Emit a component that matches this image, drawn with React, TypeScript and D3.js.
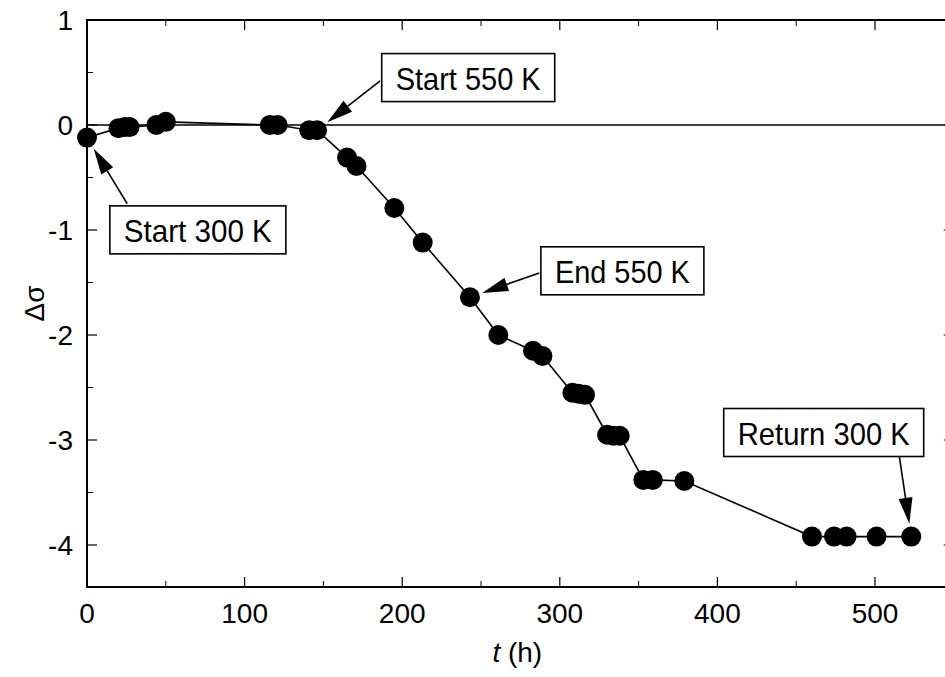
import React from 'react';
import * as d3 from 'd3';

// time (h) and change of conductivity
const hours = [0, 20, 24, 27, 44, 50, 116, 121, 141, 146, 165, 171, 195, 213, 243, 261, 283, 289, 308, 312, 316, 330, 334, 338, 353, 359, 379, 460, 474, 482, 501, 523];
const deltaSigma = [-0.12, -0.03, -0.02, -0.02, 0.0, 0.03, 0.0, 0.0, -0.05, -0.05, -0.31, -0.39, -0.79, -1.12, -1.64, -2.0, -2.15, -2.2, -2.55, -2.56, -2.57, -2.95, -2.96, -2.96, -3.38, -3.38, -3.39, -3.92, -3.92, -3.92, -3.92, -3.92];

const xTicks = [0, 100, 200, 300, 400, 500];
const yTicks = [1, 0, -1, -2, -3, -4];

// annotations: label, point index the arrow points to, box anchor (data units), arrow tail (data units)
const notes = [
  { label: 'Start 300 K', target: 0, box: [14.5, -0.77], tail: [25.5, -0.75] },
  { label: 'Start 550 K', target: 9, box: [187, 0.68], tail: [186, 0.42] },
  { label: 'End 550 K', target: 14, box: [288, -1.16], tail: [287, -1.41] },
  { label: 'Return 300 K', target: 31, box: [404, -2.7], tail: [515, -3.11] },
];
const noteWidths = [176, 173, 163, 200];

const W = 945;
const H = 677;
const margin = { left: 87, top: 20, right: 87 + 550 * 1.576, bottom: 587 };

export default function App() {
  const x = d3.scaleLinear().domain([0, 550]).range([margin.left, margin.right]);
  const y = d3.scaleLinear().domain([-4.4, 1]).range([margin.bottom, margin.top]);

  const pts = hours.map((t, i) => [x(t), y(deltaSigma[i])] as [number, number]);
  const line = d3.line()(pts) || '';

  const xMinor = d3.range(50, 550, 100);
  const yMinor = d3.range(-3.5, 1, 1);

  const font = '"Liberation Sans", Arial, Helvetica, sans-serif';

  const arrow = (x1: number, y1: number, x2: number, y2: number, k: number) => {
    const ang = Math.atan2(y2 - y1, x2 - x1);
    const len = 26;
    const half = 7;
    const bx = x2 - len * Math.cos(ang);
    const by = y2 - len * Math.sin(ang);
    const px = -Math.sin(ang) * half;
    const py = Math.cos(ang) * half;
    return (
      <g key={'a' + k}>
        <line x1={x1} y1={y1} x2={bx} y2={by} stroke="#000" strokeWidth={1.6} />
        <polygon points={`${x2},${y2} ${bx + px},${by + py} ${bx - px},${by - py}`} fill="#000" />
      </g>
    );
  };

  return (
    <svg width={W} height={H} style={{ position: 'absolute', left: 0, top: 0, background: '#fff' }} fontFamily={font}>
      {/* zero line */}
      <line x1={x(0)} x2={x(550)} y1={y(0)} y2={y(0)} stroke="#000" strokeWidth={1.6} />

      {/* frame */}
      <rect x={margin.left} y={margin.top} width={margin.right - margin.left} height={margin.bottom - margin.top} fill="none" stroke="#000" strokeWidth={2} />

      {/* x ticks */}
      {xTicks.map(t => (
        <g key={'xt' + t}>
          <line x1={x(t)} x2={x(t)} y1={margin.bottom} y2={margin.bottom - 10} stroke="#000" strokeWidth={1.2} />
          <line x1={x(t)} x2={x(t)} y1={margin.top} y2={margin.top + 10} stroke="#000" strokeWidth={1.2} />
          <text x={x(t)} y={margin.bottom + 36} textAnchor="middle" fontSize={28}>{t}</text>
        </g>
      ))}
      {xMinor.map(t => (
        <g key={'xm' + t}>
          <line x1={x(t)} x2={x(t)} y1={margin.bottom} y2={margin.bottom - 6} stroke="#000" strokeWidth={1} />
          <line x1={x(t)} x2={x(t)} y1={margin.top} y2={margin.top + 6} stroke="#000" strokeWidth={1} />
        </g>
      ))}

      {/* y ticks */}
      {yTicks.map(v => (
        <g key={'yt' + v}>
          <line x1={margin.left} x2={margin.left + 10} y1={y(v)} y2={y(v)} stroke="#000" strokeWidth={1.2} />
          <line x1={margin.right} x2={margin.right - 10} y1={y(v)} y2={y(v)} stroke="#000" strokeWidth={1.2} />
          <text x={margin.left - 14} y={y(v)} dy="0.36em" textAnchor="end" fontSize={28}>{v}</text>
        </g>
      ))}
      {yMinor.map(v => (
        <g key={'ym' + v}>
          <line x1={margin.left} x2={margin.left + 6} y1={y(v)} y2={y(v)} stroke="#000" strokeWidth={1} />
          <line x1={margin.right} x2={margin.right - 6} y1={y(v)} y2={y(v)} stroke="#000" strokeWidth={1} />
        </g>
      ))}

      {/* axis titles */}
      <text x={x(275) - 28} y={662} fontSize={28}>
        <tspan fontStyle="italic">t</tspan> (h)
      </text>
      <text transform={`translate(44, ${y(-1.7)}) rotate(-90)`} textAnchor="middle" fontSize={28}>Δσ</text>

      {/* data */}
      <path d={line} fill="none" stroke="#000" strokeWidth={1.6} />
      {pts.map((p, i) => (
        <circle key={'p' + i} cx={p[0]} cy={p[1]} r={10} fill="#000" />
      ))}

      {/* annotations */}
      {notes.map((n, k) => {
        const bx = x(n.box[0]);
        const by = y(n.box[1]);
        const tw = noteWidths[k];
        const tip = pts[n.target];
        const tx = x(n.tail[0]);
        const ty = y(n.tail[1]);
        const ang = Math.atan2(ty - tip[1], tx - tip[0]);
        return (
          <g key={'n' + k}>
            {arrow(tx, ty, tip[0] + 13 * Math.cos(ang), tip[1] + 13 * Math.sin(ang), k)}
            <rect x={bx} y={by} width={tw} height={48} fill="#fff" stroke="#000" strokeWidth={1.6} />
            <text x={bx + tw / 2} y={by + 36} textAnchor="middle" fontSize={32}
              textLength={tw - 28} lengthAdjust="spacingAndGlyphs">{n.label}</text>
          </g>
        );
      })}
    </svg>
  );
}
